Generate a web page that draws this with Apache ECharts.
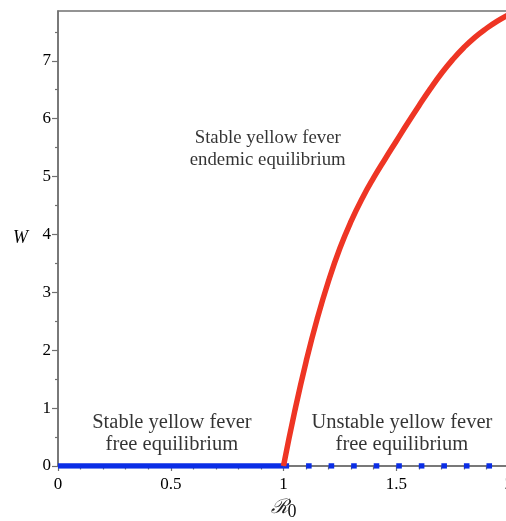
<!DOCTYPE html>
<html>
<head>
<meta charset="utf-8">
<script src="https://cdn.jsdelivr.net/npm/echarts@6/dist/echarts.min.js"></script>
<style>html,body{margin:0;padding:0;background:#fff}#c{width:506px;height:521px}</style>
</head>
<body>
<div id="c"></div>
<script>
// Endemic equilibrium curve W(R0)
const r0Curve = [1.00,1.05,1.10,1.15,1.20,1.25,1.30,1.35,1.40,1.45,1.50,1.55,1.60,1.65,1.70,1.75,1.80,1.85,1.90,1.95,2.00];
const wCurve  = [0,0.95,1.80,2.55,3.20,3.76,4.23,4.63,4.98,5.30,5.61,5.92,6.22,6.51,6.78,7.02,7.23,7.41,7.56,7.69,7.80];
// Disease-free equilibrium
const stableFreeR0 = [0, 1];
const stableFreeW = [0, 0];
const unstableFreeR0 = [1, 2];
const unstableFreeW = [0, 0];
// Axis ticks
const xMin = 0, xMax = 2, xInterval = 0.5;
const yMin = 0, yMax = 7.86;
const yMajorTicks = [0,1,2,3,4,5,6,7];
const yMinorTicks = [0.5,1.5,2.5,3.5,4.5,5.5,6.5,7.5];
// Annotations: [R0, W, text, font size]
const annotations = [
  [0.93, 5.47, 'Stable yellow fever\nendemic equilibrium', 18.8],
  [0.505, 0.565, 'Stable yellow fever\nfree equilibrium', 20.5],
  [1.525, 0.565, 'Unstable yellow fever\nfree equilibrium', 20.5]
];

const axisGray = '#707070';
const serif = '"Liberation Serif", "Times New Roman", serif';

const chart = echarts.init(document.getElementById('c'), null, {renderer: 'canvas'});
chart.setOption({
  animation: false,
  backgroundColor: '#fff',
  grid: {left: 58, right: -3, top: 11, bottom: 55, outerBoundsMode: 'none', containLabel: false,
    show: true, borderColor: axisGray, borderWidth: 1.5, backgroundColor: 'transparent'},
  xAxis: {
    type: 'value', min: xMin, max: xMax, interval: xInterval,
    name: '{r|ℛ}{s|0}', nameLocation: 'middle', nameGap: 28,
    nameTextStyle: {rich: {r: {fontFamily: '"DejaVu Serif", serif', fontSize: 20, fontStyle: 'italic', color: '#222'}, s: {fontFamily: serif, fontSize: 18, color: '#111', padding: [8,0,0,0]}}},
    axisLine: {show: true, onZero: false, lineStyle: {color: axisGray, width: 1.5}},
    axisTick: {show: true, inside: false, length: 5, lineStyle: {color: axisGray, width: 1.2}},
    minorTick: {show: true, splitNumber: 5, length: 3.5, lineStyle: {color: axisGray, width: 1.2}},
    splitLine: {show: false},
    axisLabel: {color: '#000', fontFamily: serif, fontSize: 17, margin: 10,
      formatter: v => String(v)}
  },
  yAxis: [{
    type: 'value', min: yMin, max: yMax,
    name: 'W', nameLocation: 'middle', nameRotate: 0, nameGap: 30,
    nameTextStyle: {fontFamily: serif, fontStyle: 'italic', fontSize: 18, color: '#000'},
    axisLine: {show: true, onZero: false, lineStyle: {color: axisGray, width: 1.5}},
    axisTick: {show: true, length: 6, customValues: yMajorTicks, lineStyle: {color: axisGray, width: 1.2}},
    splitLine: {show: false},
    axisLabel: {color: '#000', fontFamily: serif, fontSize: 17, margin: 7, customValues: yMajorTicks}
  }, {
    type: 'value', min: yMin, max: yMax, position: 'left',
    axisLine: {show: false},
    axisTick: {show: true, length: 3, customValues: yMinorTicks, lineStyle: {color: axisGray, width: 1.2}},
    axisLabel: {show: false}, splitLine: {show: false}
  }],
  series: [
    {
      type: 'line', name: 'unstable free', symbol: 'none', z: 3,
      data: unstableFreeR0.map((x, i) => [x, unstableFreeW[i]]),
      lineStyle: {color: '#0a2de6', width: 5.5, type: [5.6, 16.95], cap: 'butt'}
    },
    {
      type: 'line', name: 'stable free', symbol: 'none', z: 3,
      data: stableFreeR0.map((x, i) => [x, stableFreeW[i]]),
      lineStyle: {color: '#0a2de6', width: 5.5, cap: 'butt'}
    },
    {
      type: 'line', name: 'endemic', symbol: 'none', smooth: true, z: 4,
      data: r0Curve.map((x, i) => [x, wCurve[i]]),
      lineStyle: {color: '#ee3524', width: 5.5, cap: 'butt'}
    },
    {
      type: 'scatter', name: 'labels', symbolSize: 0, silent: true, z: 5,
      data: annotations.map(a => ({value: [a[0], a[1]], text: a[2],
        label: {fontSize: a[3]}})),
      label: {show: true, position: 'inside', formatter: p => p.data.text,
        fontFamily: serif, fontSize: 20, lineHeight: 22, color: '#000', align: 'center', verticalAlign: 'middle'}
    }
  ]
});
</script>
</body>
</html>
